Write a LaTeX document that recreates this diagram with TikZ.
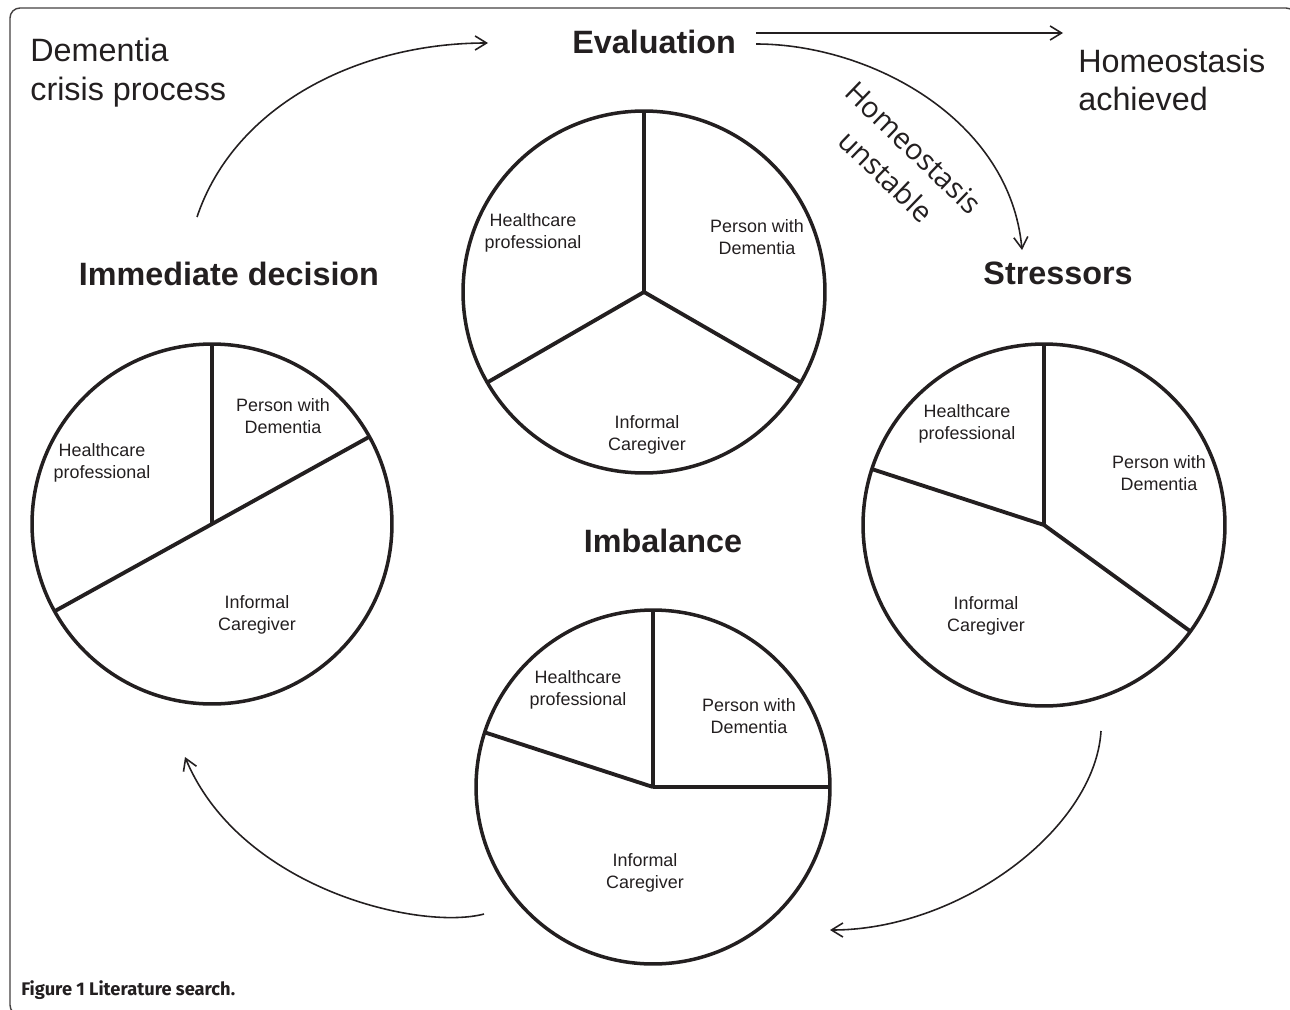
\documentclass[tikz,border=0pt]{standalone}
\usepackage{fontspec}
\setmainfont{Liberation Sans}
\newfontfamily\handfont{Open Sans}
\newfontfamily\capfont{Fira Sans}
\usepackage{tikz}
\usetikzlibrary{arrows.meta,calc,positioning}
\definecolor{ink}{HTML}{231F20}

\begin{document}
\begin{tikzpicture}[x=0.02cm,y=0.02cm,
  frame/.style={draw=ink!85,line width=0.8pt,rounded corners=0.2cm},
  pie/.style={draw=ink,circle,line width=2pt,inner sep=0,outer sep=0},
  spoke/.style={draw=ink,line width=2.2pt},
  slice/.style={align=center,inner sep=0,text=ink,font=\fontsize{10.2}{12.3}\selectfont},
  stage/.style={inner sep=0,text=ink,font=\fontsize{18.4}{22}\selectfont\bfseries},
  note/.style={align=left,inner sep=0,text=ink,font=\fontsize{18.4}{22.1}\selectfont},
  handnote/.style={align=center,inner sep=0,text=ink,font=\handfont\fontsize{16.5}{22.4}\selectfont},
  caption/.style={inner sep=0,text=ink,font=\capfont\fontsize{10.4}{12}\selectfont\bfseries},
  flow/.style={draw=ink,line width=0.9pt,-{Straight Barb[length=6.5pt,width=8pt]}}]
\useasboundingbox (0,0) rectangle (1290,1009);
\draw[frame] (10,-6) rectangle (1296,1001);

\node[stage] (eval) at (654,967) {Evaluation};
\node[stage] (decide) at (229,735) {Immediate decision};
\node[stage] (stress) at (1058,736) {Stressors};
\node[stage] (imbal) at (663,468) {Imbalance};
\node[note,anchor=west] (crisis) at (30,936) {Dementia\\crisis process};
\node[note,anchor=west] (achieved) at (1078,929) {Homeostasis\\achieved};
\node[handnote,rotate=-44] (unstable) at (900,847) {Homeostasis\\unstable};
\node[caption,anchor=west] (cap) at (21,19) {Figure 1 Literature search.};

\node[pie,minimum size=7.24cm] (pe) at (644,717) {};
\draw[spoke] (pe.center) -- (pe.90) (pe.center) -- (pe.-30) (pe.center) -- (pe.210);
\node[slice] (pe-hc) at (533,776) {Healthcare\\professional};
\node[slice] (pe-pwd) at (757,772) {Person with\\Dementia};
\node[slice] (pe-ic) at (647,574) {Informal\\Caregiver};

\node[pie,minimum size=7.2cm] (pd) at (212,485) {};
\draw[spoke] (pd.center) -- (pd.90) (pd.center) -- (pd.29) (pd.center) -- (pd.209);
\node[slice] (pd-pwd) at (283,593) {Person with\\Dementia};
\node[slice] (pd-hc) at (102,546) {Healthcare\\professional};
\node[slice] (pd-ic) at (257,394) {Informal\\Caregiver};

\node[pie,minimum size=7.24cm] (ps) at (1044,484) {};
\draw[spoke] (ps.center) -- (ps.90) (ps.center) -- (ps.-36) (ps.center) -- (ps.162);
\node[slice] (ps-hc) at (967,585) {Healthcare\\professional};
\node[slice] (ps-pwd) at (1159,536) {Person with\\Dementia};
\node[slice] (ps-ic) at (986,393) {Informal\\Caregiver};

\node[pie,minimum size=7.08cm] (pi) at (653,222) {};
\draw[spoke] (pi.center) -- (pi.90) (pi.center) -- (pi.0) (pi.center) -- (pi.162);
\node[slice] (pi-hc) at (578,319) {Healthcare\\professional};
\node[slice] (pi-pwd) at (749,293) {Person with\\Dementia};
\node[slice] (pi-ic) at (645,136) {Informal\\Caregiver};

\coordinate (decide-out) at (197,792);
\coordinate (eval-in) at (488,966);
\coordinate (eval-out) at (756,976);
\coordinate (achieved-in) at (1063,976);
\coordinate (eval-back) at (756,965);
\coordinate (stress-in) at (1022,759);
\coordinate (stress-out) at (1101,278);
\coordinate (imbal-in) at (830,79);
\coordinate (imbal-out) at (484,95);
\coordinate (decide-in) at (185,252);
\draw[flow] (decide-out) .. controls (235,905) and (360,966) .. (eval-in);
\draw[flow] (eval-out) -- (achieved-in);
\draw[flow] (eval-back) .. controls (870,965) and (1010,890) .. (stress-in);
\draw[flow] (stress-out) .. controls (1095,180) and (960,79) .. (imbal-in);
\draw[flow] (imbal-out) .. controls (420,78) and (240,120) .. (decide-in);
\end{tikzpicture}
\end{document}
